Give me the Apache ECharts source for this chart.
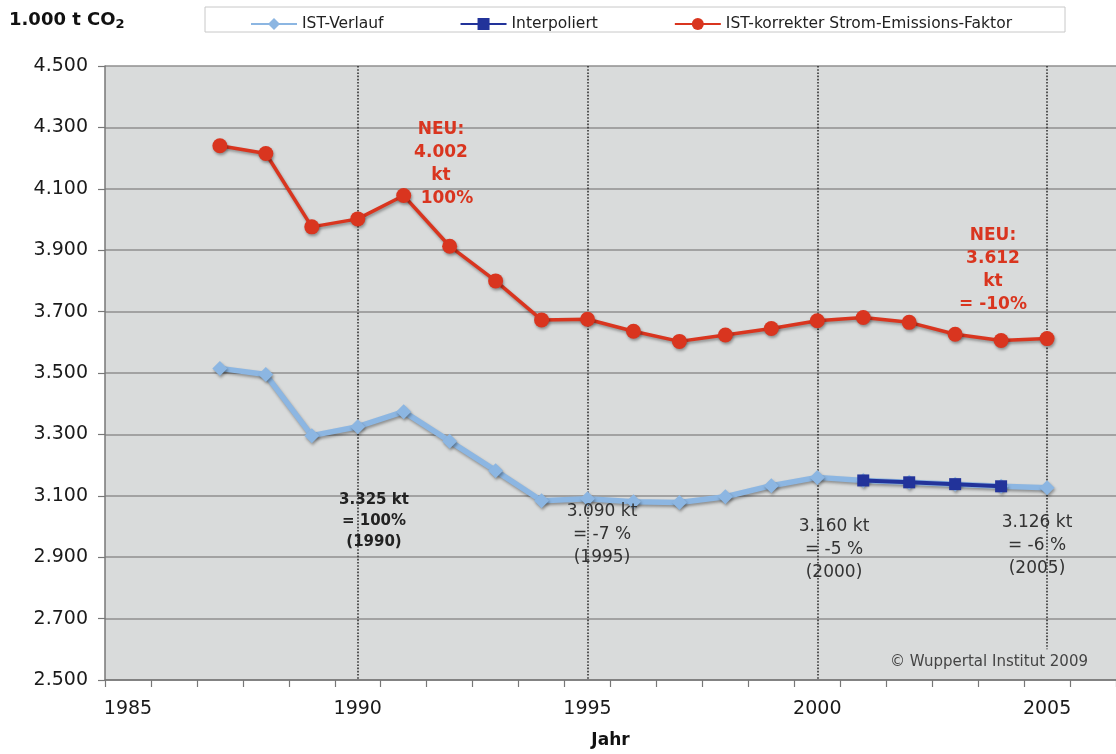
<!DOCTYPE html>
<html>
<head>
<meta charset="utf-8">
<script src="https://cdn.jsdelivr.net/npm/echarts@6/dist/echarts.min.js"></script>
<style>
html,body{margin:0;padding:0;background:#fff;}
#chart{width:1116px;height:754px;}
</style>
</head>
<body>
<div id="chart"></div>
<script>
const years = ['1985','1986','1987','1988','1989','1990','1991','1992','1993','1994','1995','1996','1997','1998','1999','2000','2001','2002','2003','2004','2005','2006'];
const istVerlauf = [null,null,3515,3495,3296,3325,3374,3278,3182,3084,3090,3081,3078,3097,3133,3160,3150,3144,3138,3131,3126,null];
const interpoliert = [null,null,null,null,null,null,null,null,null,null,null,null,null,null,null,null,3150,3144,3138,3131,null,null];
const korrekt = [null,null,4240,4215,3976,4002,4078,3913,3800,3673,3675,3636,3603,3624,3645,3670,3681,3665,3626,3606,3612,null];
const yTicks = {min:2500, max:4500, step:200};
const markYears = ['1990','1995','2000','2005'];
const seriesNames = ['IST-Verlauf','Interpoliert','IST-korrekter Strom-Emissions-Faktor'];

const FONT = '"DejaVu Sans", Verdana, sans-serif';
const chart = echarts.init(document.getElementById('chart'), null, {renderer:'canvas'});

const shadow = {shadowColor:'rgba(0,0,0,0.35)', shadowBlur:3, shadowOffsetX:1, shadowOffsetY:2};

function txt(text, x, y, size, weight, color, lh){
  return {type:'text', silent:true, z:50,
    style:{text:text, x:x, y:y, fill:color, font: weight+' '+size+'px '+FONT, textAlign:'center', textVerticalAlign:'top', lineHeight:lh}};
}

chart.setOption({
  animation:false,
  textStyle:{fontFamily:FONT},
  grid:{left:105, right:0, top:66, bottom:73, show:true, backgroundColor:'#d9dbdb', borderWidth:0},
  legend:{
    data:seriesNames, left:245, top:11, itemWidth:46, itemHeight:15, itemGap:76,
    textStyle:{fontSize:15.5, color:'#222', fontFamily:FONT}
  },
  xAxis:{
    type:'category', data:years, boundaryGap:true,
    name:'Jahr', nameLocation:'middle', nameGap:52,
    nameTextStyle:{fontSize:17, fontWeight:'bold', color:'#111', fontFamily:FONT},
    axisLine:{lineStyle:{color:'#777', width:1.5}},
    axisTick:{show:true, interval:0, length:7, lineStyle:{color:'#777', width:1.2}},
    axisLabel:{interval:4, fontSize:19, color:'#1a1a1a', margin:20, fontFamily:FONT},
    splitLine:{show:false}
  },
  yAxis:{
    type:'value', min:yTicks.min, max:yTicks.max, interval:yTicks.step,
    axisLine:{show:true, lineStyle:{color:'#777', width:1.5}},
    axisTick:{show:true, length:7, lineStyle:{color:'#777', width:1.2}},
    axisLabel:{fontSize:19, color:'#1a1a1a', margin:17, fontFamily:FONT,
      formatter:v=>(v/1000).toFixed(3)},
    splitLine:{lineStyle:{color:'#8f8f8f', width:1.5}}
  },
  series:[
    {name:seriesNames[0], type:'line', data:istVerlauf, connectNulls:false, z:3,
      color:'#8cb6e2', symbol:'diamond', symbolSize:15,
      lineStyle:Object.assign({width:5.5, color:'#8cb6e2'}, shadow),
      itemStyle:Object.assign({color:'#8cb6e2'}, shadow)},
    {name:seriesNames[1], type:'line', data:interpoliert, z:4,
      color:'#22339a', symbol:'rect', symbolSize:12,
      lineStyle:{width:4, color:'#22339a'},
      itemStyle:{color:'#22339a'}},
    {name:seriesNames[2], type:'line', data:korrekt, z:5,
      color:'#d9351f', symbol:'circle', symbolSize:15,
      lineStyle:Object.assign({width:3.5, color:'#d9351f'}, shadow),
      itemStyle:Object.assign({color:'#d9351f'}, shadow),
      markLine:{silent:true, symbol:['none','none'], label:{show:false}, z:2,
        lineStyle:{type:'dotted', color:'#333', width:1.6},
        data:[
          [{coord:[markYears[0], 4500]},{coord:[markYears[0], 2500]}],
          [{coord:[markYears[1], 4500]},{coord:[markYears[1], 2500]}],
          [{coord:[markYears[2], 4500]},{coord:[markYears[2], 2500]}],
          [{coord:[markYears[3], 4500]},{coord:[markYears[3], 2600]}]
        ]}}
  ],
  graphic:[
    {type:'rect', z:-1, silent:true, shape:{x:205, y:7, width:860, height:25},
      style:{fill:'#fff', stroke:'#c8c8c8', lineWidth:1}},
    {type:'text', silent:true, z:50, style:{
      text:'{a|1.000 t CO}{b|2}', x:9, y:10,
      rich:{a:{font:'bold 18px '+FONT, fill:'#111'}, b:{font:'bold 13px '+FONT, fill:'#111', padding:[8,0,0,0]}}}},
    txt('NEU:\n4.002\nkt\n  100%', 441, 118, 17, 'bold', '#d9351f', 23),
    txt('NEU:\n3.612\nkt\n= -10%', 993, 224, 17, 'bold', '#d9351f', 23),
    txt('3.325 kt\n= 100%\n(1990)', 374, 490, 15, 'bold', '#222', 21),
    txt('3.090 kt\n= -7 %\n(1995)', 602, 500, 17, 'normal', '#333', 23),
    txt('3.160 kt\n= -5 %\n(2000)', 834, 515, 17, 'normal', '#333', 23),
    txt('3.126 kt\n= -6 %\n(2005)', 1037, 511, 17, 'normal', '#333', 23),
    {type:'text', silent:true, z:50, style:{text:'© Wuppertal Institut 2009', x:1088, y:655, fill:'#444', font:'15px '+FONT, textAlign:'right'}}
  ]
});
</script>
</body>
</html>
